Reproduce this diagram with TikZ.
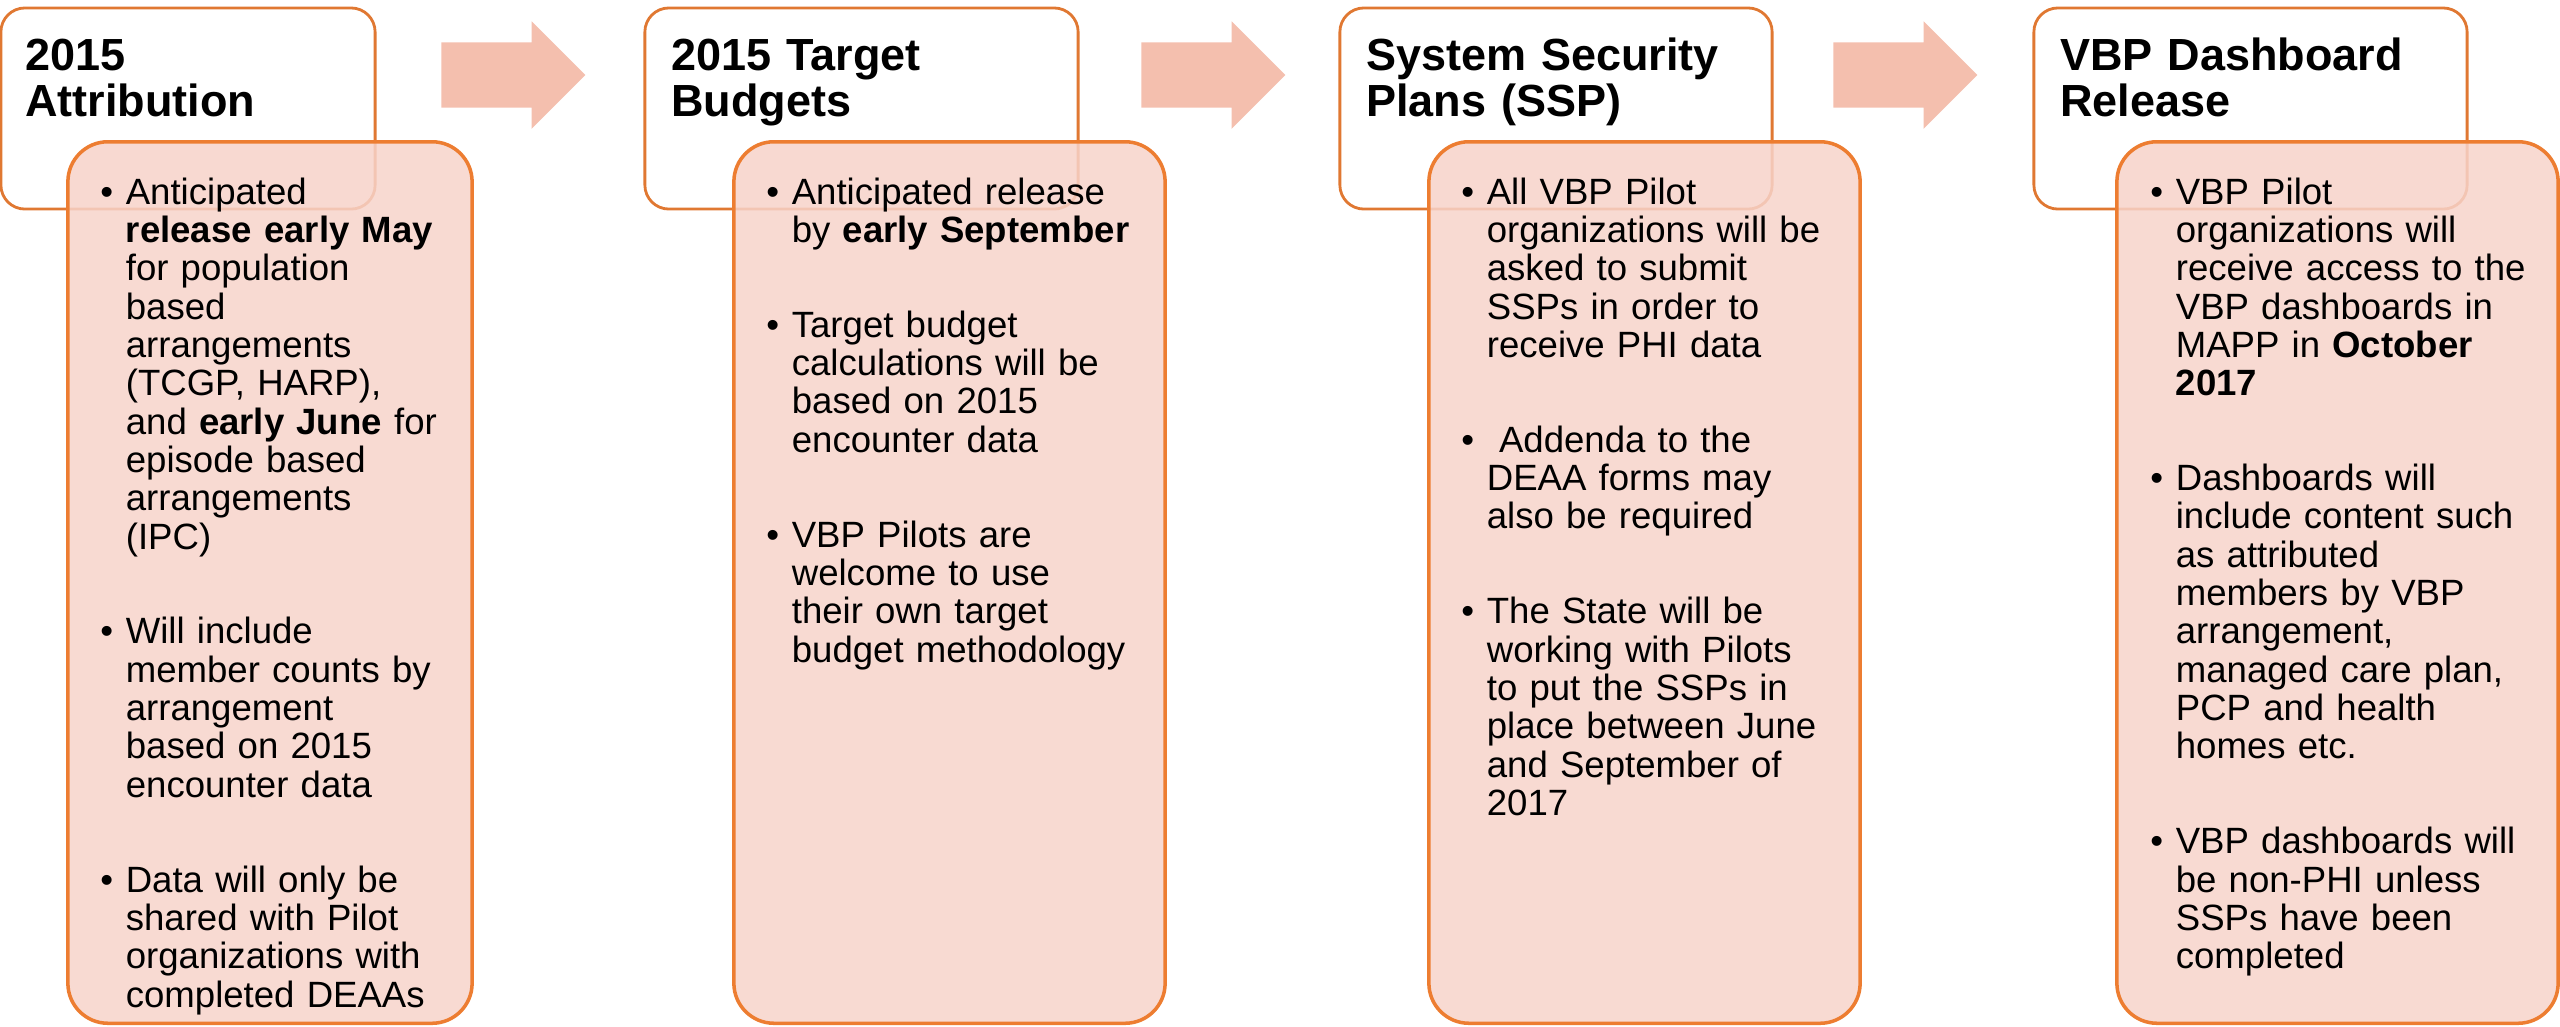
\documentclass[tikz,border=0pt]{standalone}
\usepackage{fontspec}
\setmainfont{Liberation Sans}
\usetikzlibrary{shapes.arrows}
\definecolor{lineorange}{RGB}{237,125,49}
\definecolor{stageline}{RGB}{224,120,50}
\definecolor{infofill}{RGB}{247,211,202}
\definecolor{arrowfill}{RGB}{244,191,174}
\tikzstyle{stage} = [rectangle, rounded corners=0.24cm, minimum height=2.01cm, draw=stageline, line width=0.8pt, fill=white, inner sep=0pt]
\tikzstyle{info} = [rectangle, rounded corners=0.4cm, minimum height=8.81cm, draw=lineorange, line width=1pt, fill=infofill, fill opacity=0.85, inner sep=0pt]
\tikzstyle{stagetitle} = [anchor=base west, inner sep=0pt, text width=4cm, align=left, font=\fontsize{12.8}{13.1}\selectfont\bfseries]
\tikzstyle{infotext} = [anchor=base west, inner sep=0pt, text width=3.9cm, align=left, font=\fontsize{10.4}{10.9}\selectfont]
\tikzstyle{flow} = [single arrow, fill=arrowfill, minimum height=1.44cm, single arrow head extend=0.21cm, inner xsep=0pt, inner ysep=0.32cm]
\newcommand{\bul}{\noindent\llap{\textbullet\hspace{0.126cm}}}
\newcommand{\itemgap}{\par\vspace{0.565cm}}

\begin{document}
\begin{tikzpicture}[x=0.01cm, y=-0.01cm]
\useasboundingbox (0,0) rectangle (2560,1026);

% stage headers
\node (attr) [stage, minimum width=3.74cm] at (188,108.5) {};
\node (budget) [stage, minimum width=4.33cm] at (861.5,108.5) {};
\node (ssp) [stage, minimum width=4.32cm] at (1556,108.5) {};
\node (dash) [stage, minimum width=4.33cm] at (2250.5,108.5) {};

% detail boxes
\node (attrinfo) [info, minimum width=4.04cm] at (270,582.5) {};
\node (budgetinfo) [info, minimum width=4.31cm] at (949.5,582.5) {};
\node (sspinfo) [info, minimum width=4.31cm] at (1644.5,582.5) {};
\node (dashinfo) [info, minimum width=4.41cm] at (2337.5,582.5) {};

\node (attrtitle) [stagetitle] at ([xshift=0.25cm, yshift=-0.635cm]attr.north west) {2015\\Attribution};
\node (budgettitle) [stagetitle] at ([xshift=0.27cm, yshift=-0.635cm]budget.north west) {2015 Target\\Budgets};
\node (ssptitle) [stagetitle] at ([xshift=0.27cm, yshift=-0.635cm]ssp.north west) {System Security\\Plans (SSP)};
\node (dashtitle) [stagetitle] at ([xshift=0.27cm, yshift=-0.635cm]dash.north west) {VBP Dashboard\\Release};

\node (attrtext) [infotext] at ([xshift=0.59cm, yshift=-0.64cm]attrinfo.north west) {\bul Anticipated\\ \textbf{release early May}\\ for population\\ based\\ arrangements\\ (TCGP, HARP),\\ and \textbf{early June} for\\ episode based\\ arrangements\\ (IPC)\itemgap
\bul Will include\\ member counts by\\ arrangement\\ based on 2015\\ encounter data\itemgap
\bul Data will only be\\ shared with Pilot\\ organizations with\\ completed DEAAs};
\node (budgettext) [infotext] at ([xshift=0.59cm, yshift=-0.64cm]budgetinfo.north west) {\bul Anticipated release\\ by \textbf{early September}\itemgap
\bul Target budget\\ calculations will be\\ based on 2015\\ encounter data\itemgap
\bul VBP Pilots are\\ welcome to use\\ their own target\\ budget methodology};
\node (ssptext) [infotext] at ([xshift=0.59cm, yshift=-0.64cm]sspinfo.north west) {\bul All VBP Pilot\\ organizations will be\\ asked to submit\\ SSPs in order to\\ receive PHI data\itemgap
\bul\ Addenda to the\\ DEAA forms may\\ also be required\itemgap
\bul The State will be\\ working with Pilots\\ to put the SSPs in\\ place between June\\ and September of\\ 2017};
\node (dashtext) [infotext] at ([xshift=0.6cm, yshift=-0.64cm]dashinfo.north west) {\bul VBP Pilot\\ organizations will\\ receive access to the\\ VBP dashboards in\\ MAPP in \textbf{October}\\ \textbf{2017}\itemgap
\bul Dashboards will\\ include content such\\ as attributed\\ members by VBP\\ arrangement,\\ managed care plan,\\ PCP and health\\ homes etc.\itemgap
\bul VBP dashboards will\\ be non-PHI unless\\ SSPs have been\\ completed};

% block arrows between stages
\node (flow1) [flow] at (497,75) {};
\node (flow2) [flow] at (1197,75) {};
\node (flow3) [flow] at (1889,75) {};
\end{tikzpicture}
\end{document}
